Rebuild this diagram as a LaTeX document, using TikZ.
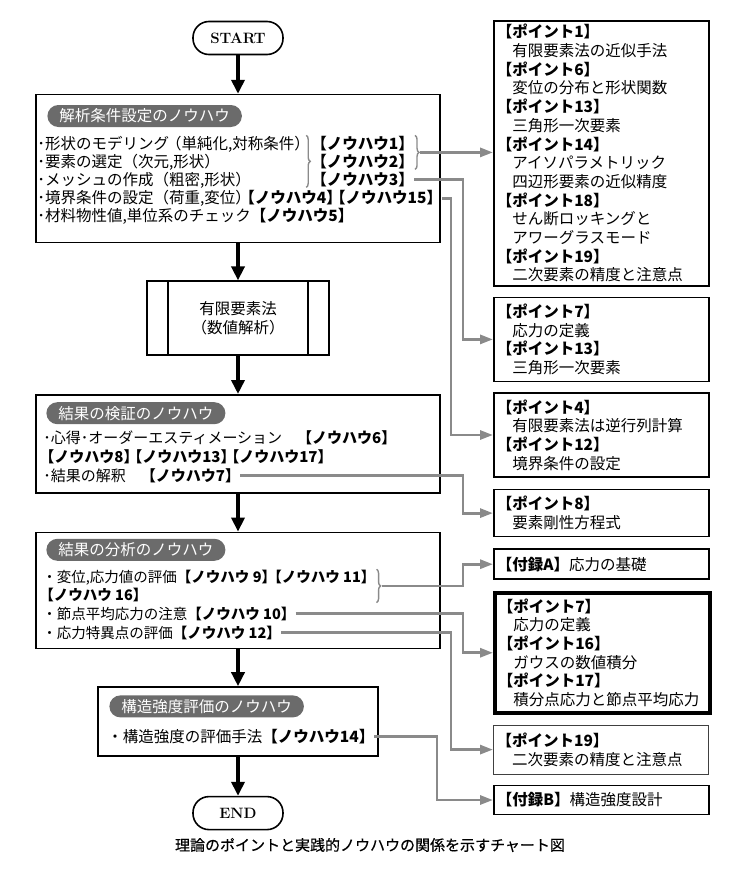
\documentclass[tikz,border=0pt]{standalone}
\usepackage{fontspec}
\newfontfamily\jp{Noto Sans CJK JP}
\newfontfamily\capfont[FakeBold=0.5]{Noto Sans CJK JP}
\usetikzlibrary{positioning,calc,arrows.meta,decorations.pathreplacing}
\definecolor{linkgray}{HTML}{8A8A8A}
\definecolor{pillgray}{HTML}{6B6B6B}

\begin{document}
\begin{tikzpicture}[
  x=1pt, y=1pt,
  font=\jp\fontsize{15.5}{18.7}\selectfont,
  term/.style={draw, line width=1.6pt, rounded corners=16pt, minimum width=90pt, minimum height=33pt, font=\rmfamily\bfseries\fontsize{15}{18}\selectfont},
  box/.style={draw, line width=1.6pt, minimum width=404pt},
  pill/.style={fill=pillgray, text=white, rounded corners=11pt, minimum height=22pt, inner xsep=12pt, inner ysep=0pt, anchor=north west},
  txt/.style={anchor=base west, inner sep=0pt},
  mid/.style={font=\jp\fontsize{15}{18}\selectfont},
  small/.style={font=\jp\fontsize{14.5}{18}\selectfont},
  pbox/.style={draw, line width=1.6pt, text width=209pt, inner xsep=3pt, inner ysep=0pt, align=left},
  flow/.style={line width=3.5pt, -{Triangle[length=14pt,width=13pt]}},
  link/.style={draw=linkgray, line width=2.8pt, -{Triangle[length=13pt,width=9pt]}},
  brc/.style={draw=linkgray, line width=1.4pt, decorate, decoration={brace, amplitude=4pt}}
]
\useasboundingbox (0,0) rectangle (743,-881);

% main flow
\node[term] (start) at (238,-38) {START};
\node[box, minimum height=148pt, below=38.5pt of start] (k1) {};
\node[draw, line width=1.6pt, minimum width=182pt, minimum height=74pt, align=center, below=37pt of k1] (fem) {有限要素法\\（数値解析）};
\node[box, minimum height=98pt, below=38pt of fem] (k2) {};
\node[box, minimum height=116pt, below=38pt of k2] (k3) {};
\node[box, minimum width=280pt, minimum height=69pt, below=37pt of k3] (k4) {};
\node[term, below=39pt of k4] (finish) {END};

\draw[line width=1.6pt] ([xshift=22pt]fem.north west) -- ([xshift=22pt]fem.south west)
  ([xshift=-22pt]fem.north east) -- ([xshift=-22pt]fem.south east);

\foreach \a/\b in {start/k1, k1/fem, fem/k2, k2/k3, k3/k4, k4/finish}
  \draw[flow] (\a) -- (\b);

% right column
\node[pbox, minimum height=265pt, anchor=north west] (r1) at (493,-20) {%
  \textbf{【ポイント1】}\\\hspace*{1em}有限要素法の近似手法\\
  \textbf{【ポイント6】}\\\hspace*{1em}変位の分布と形状関数\\
  \textbf{【ポイント13】}\\\hspace*{1em}三角形一次要素\\
  \textbf{【ポイント14】}\\\hspace*{1em}アイソパラメトリック\\\hspace*{1em}四辺形要素の近似精度\\
  \textbf{【ポイント18】}\\\hspace*{1em}せん断ロッキングと\\\hspace*{1em}アワーグラスモード\\
  \textbf{【ポイント19】}\\\hspace*{1em}二次要素の精度と注意点};
\node[pbox, minimum height=84pt, below=10pt of r1.south west, anchor=north west] (r2) {%
  \textbf{【ポイント7】}\\\hspace*{1em}応力の定義\\
  \textbf{【ポイント13】}\\\hspace*{1em}三角形一次要素};
\node[pbox, minimum height=84pt, below=10pt of r2.south west, anchor=north west] (r3) {%
  \textbf{【ポイント4】}\\\hspace*{1em}有限要素法は逆行列計算\\
  \textbf{【ポイント12】}\\\hspace*{1em}境界条件の設定};
\node[pbox, minimum height=47pt, below=11pt of r3.south west, anchor=north west] (r4) {%
  \textbf{【ポイント8】}\\\hspace*{1em}要素剛性方程式};
\node[pbox, minimum height=30pt, below=11pt of r4.south west, anchor=north west] (r5) {%
  \textbf{【付録A】}応力の基礎};
\node[pbox, line width=3.5pt, minimum height=120pt, below=11pt of r5.south west, anchor=north west] (r6) {%
  \textbf{【ポイント7】}\\\hspace*{1em}応力の定義\\
  \textbf{【ポイント16】}\\\hspace*{1em}ガウスの数値積分\\
  \textbf{【ポイント17】}\\\hspace*{1em}積分点応力と節点平均応力};
\node[pbox, line width=1.2pt, draw=black!75, minimum height=49pt, below=10pt of r6.south west, anchor=north west] (r7) {%
  \textbf{【ポイント19】}\\\hspace*{1em}二次要素の精度と注意点};
\node[pbox, minimum height=29pt, below=10pt of r7.south west, anchor=north west] (r8) {%
  \textbf{【付録B】}構造強度設計};

% box 1
\node[pill] (h1) at ($(k1.north west)+(12,-11)$) {解析条件設定のノウハウ};
\node[txt] (l1) at ($(k1.north west)+(2,-55.5)$) {･形状のモデリング\kern-.2em（単純化,対称条件）};
\node[txt] (n1) at ($(k1.north west)+(276,-55.5)$) {\textbf{【ノウハウ1】}};
\node[txt] (l2) at ($(k1.north west)+(2,-73.5)$) {･要素の選定（次元,形状）};
\node[txt] (n2) at ($(k1.north west)+(276,-73.5)$) {\textbf{【ノウハウ2】}};
\node[txt] (l3) at ($(k1.north west)+(2,-91.5)$) {･メッシュの作成（粗密,形状）};
\node[txt] (n3) at ($(k1.north west)+(276,-91.5)$) {\textbf{【ノウハウ3】}};
\node[txt] (l4) at ($(k1.north west)+(2,-109.5)$) {･境界条件の設定（荷重,変位）\kern-.75em\textbf{【ノウハウ4】\kern-.75em【ノウハウ15】}};
\node[txt] (l5) at ($(k1.north west)+(2,-127.5)$) {･材料物性値,単位系のチェック\textbf{【ノウハウ5】}};

\draw[brc] ($(n1.west)+(-5,8)$) -- ($(n3.west)+(-5,-8)$);
\draw[brc] ($(n1.east)+(1,8)$) -- ($(n2.east)+(1,-8)$);
\coordinate (b1) at ($(n1.east)!0.5!(n2.east)+(6,0)$);

\draw[link] (b1) -- (b1 -| r1.west);
\draw[link] (n3.east) -| ($(r2.west)+(-30,0)$) -- (r2.west);
\draw[link] (l4.east) -| ($(r3.west)+(-42,0)$) -- (r3.west);

% box 2
\node[pill] (h2) at ($(k2.north west)+(11,-8)$) {結果の検証のノウハウ};
\node[txt, mid] (m1) at ($(k2.north west)+(8,-49.5)$) {･心得･オーダーエスティメーション　\textbf{【ノウハウ6】}};
\node[txt, mid] (m2) at ($(k2.north west)+(4,-68.5)$) {\textbf{【ノウハウ8】\kern-.75em【ノウハウ13】\kern-.75em【ノウハウ17】}};
\node[txt, mid] (m3) at ($(k2.north west)+(8,-87.5)$) {･結果の解釈　\textbf{【ノウハウ7】}};

\draw[link] (m3.east) -| ($(r4.west)+(-30,0)$) -- (r4.west);

% box 3
\node[pill] (h3) at ($(k3.north west)+(11,-7)$) {結果の分析のノウハウ};
\node[txt, small] (a1) at ($(k3.north west)+(7,-50.5)$) {・変位,応力値の評価\textbf{【ノウハウ 9】\kern-.6em【ノウハウ 11】}};
\node[txt, small] (a2) at ($(k3.north west)+(4,-68.5)$) {\textbf{【ノウハウ 16】}};
\node[txt, small] (a3) at ($(k3.north west)+(7,-87.5)$) {・節点平均応力の注意\textbf{【ノウハウ 10】}};
\node[txt, small] (a4) at ($(k3.north west)+(7,-106.5)$) {・応力特異点の評価\textbf{【ノウハウ 12】}};

\draw[brc] ($(a1.east)+(1,8)$) -- ($(a1.east |- a2.east)+(1,-8)$);
\coordinate (b3) at ($(a1.east)!0.5!(a1.east |- a2.east)+(6,0)$);

\draw[link] (b3) -| ($(r5.west)+(-30,0)$) -- (r5.west);
\draw[link] (a3.east) -| ($(r6.west)+(-30,0)$) -- (r6.west);
\draw[link] (a4.east) -| ($(r7.west)+(-42,0)$) -- (r7.west);

% box 4
\node[pill] (h4) at ($(k4.north west)+(12,-9)$) {構造強度評価のノウハウ};
\node[txt] (d1) at ($(k4.north west)+(10,-56.5)$) {・構造強度の評価手法\textbf{【ノウハウ14】}};

\draw[link] (d1.east) -| ($(r8.west)+(-56,0)$) -- (r8.west);

\node[font=\capfont\fontsize{15}{18}\selectfont] (cap) at (370,-845) {理論のポイントと実践的ノウハウの関係を示すチャート図};
\end{tikzpicture}
\end{document}
